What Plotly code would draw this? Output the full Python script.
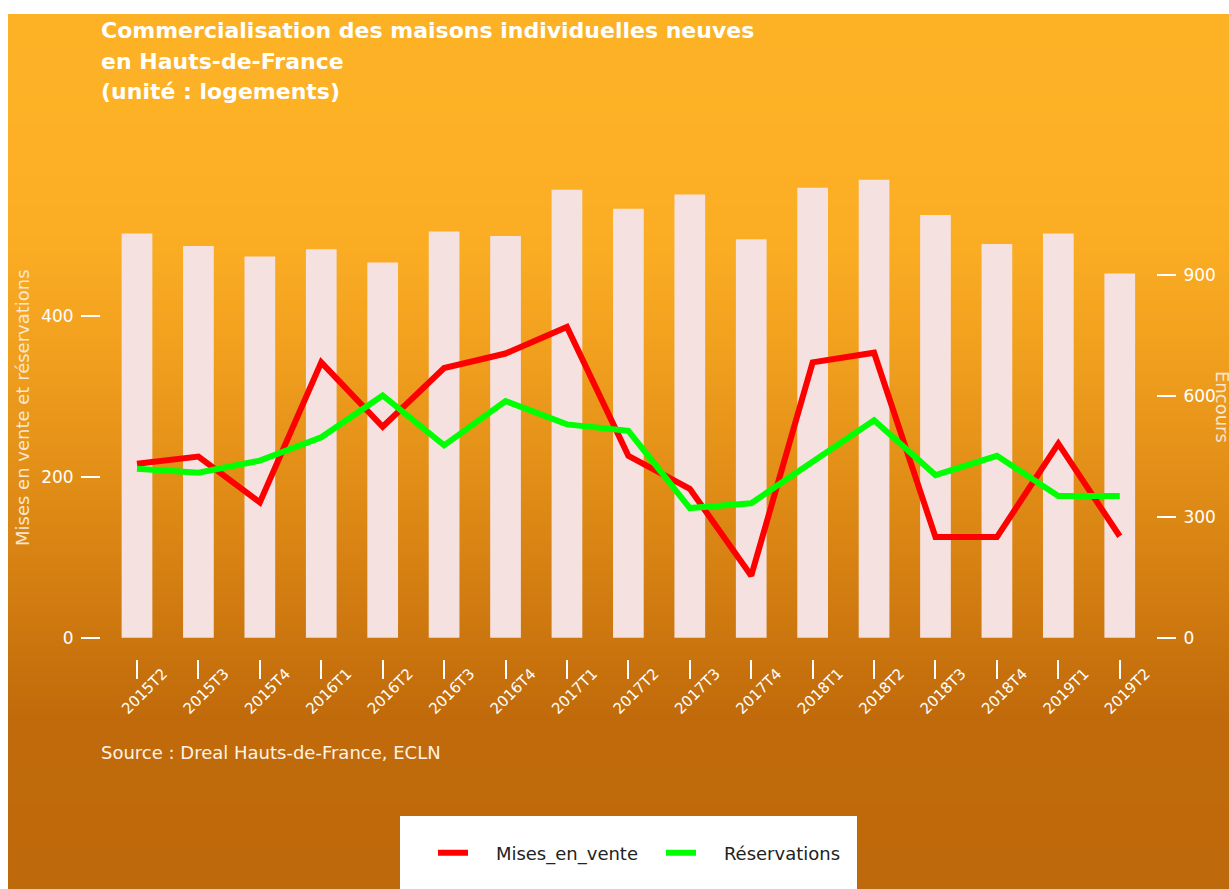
import plotly.graph_objects as go

categories = ['2015T2', '2015T3', '2015T4', '2016T1', '2016T2', '2016T3', '2016T4',
              '2017T1', '2017T2', '2017T3', '2017T4', '2018T1', '2018T2', '2018T3',
              '2018T4', '2019T1', '2019T2']
encours = [1004, 973, 947, 965, 932, 1009, 998, 1113, 1066, 1101, 990, 1118, 1138,
           1050, 978, 1004, 905]
mises_en_vente = [216, 225, 168, 342, 262, 335, 353, 386, 226, 185, 77, 342, 354,
                  125, 125, 241, 126]
reservations = [210, 205, 220, 249, 301, 239, 294, 265, 257, 161, 167, 218, 270,
                202, 226, 176, 176]
left_ticks = [0, 200, 400]
right_ticks = [0, 300, 600, 900]

W, H = 1229, 889
ML, MR, MT, MB = 101, 73, 100, 230
PW = W - ML - MR
PH = H - MT - MB


def px(x):
    return (x - ML) / PW


def py(y):
    return (H - MB - y) / PH


FONT = "DejaVu Sans, Liberation Sans, Arial, sans-serif"

# background gradient stops (pixel y, rgb)
stops = [(14, (253, 178, 38)), (160, (253, 176, 37)), (250, (250, 172, 35)),
         (350, (241, 160, 30)), (450, (229, 146, 25)), (550, (216, 131, 19)),
         (650, (202, 116, 14)), (720, (192, 106, 11)), (889, (190, 105, 11))]


def col_at(y):
    for (y0, c0), (y1, c1) in zip(stops[:-1], stops[1:]):
        if y0 <= y <= y1:
            t = (y - y0) / (y1 - y0)
            return 'rgb(%d,%d,%d)' % tuple(round(a + (b - a) * t) for a, b in zip(c0, c1))
    return 'rgb(%d,%d,%d)' % stops[-1][1]


shapes = []
step = 3
y = 14
while y < H:
    y2 = min(y + step, H)
    shapes.append(dict(type='rect', xref='paper', yref='paper', x0=px(8), x1=px(W + 2),
                       y0=py(y2 + 0.5), y1=py(y), fillcolor=col_at(y + step / 2),
                       line=dict(width=0), layer='below'))
    y = y2
# legend box
shapes.append(dict(type='rect', xref='paper', yref='paper', x0=px(400), x1=px(857),
                   y0=py(H + 2), y1=py(816), fillcolor='white', line=dict(width=0),
                   layer='below'))

NB = '\u00a0' * 4
fig = go.Figure()
fig.add_trace(go.Bar(x=categories, y=encours, name='Encours', yaxis='y',
                     marker=dict(color='#F6E1E1', line=dict(width=0)), width=0.5,
                     showlegend=False))
fig.add_trace(go.Scatter(x=categories, y=mises_en_vente, name=NB + 'Mises_en_vente',
                         yaxis='y2', mode='lines', line=dict(color='#FF0000', width=6)))
fig.add_trace(go.Scatter(x=categories, y=reservations, name=NB + 'Réservations',
                         yaxis='y2', mode='lines', line=dict(color='#00FF00', width=6)))

# scale: left axis 0.805 px/unit, right axis 0.4025 px/unit, zero at y=637.7
zero_px = 637.7
lk = 0.805
l_min = -(H - MB - zero_px) / lk
l_max = l_min + PH / lk

annotations = [
    dict(text='<b>Commercialisation des maisons individuelles neuves</b>', x=px(99), y=py(31)),
    dict(text='<b>en Hauts-de-France</b>', x=px(99), y=py(61)),
    dict(text='<b>(unité : logements)</b>', x=px(99), y=py(92)),
]
for a in annotations:
    a.update(xref='paper', yref='paper', xanchor='left', yanchor='middle', showarrow=False,
             font=dict(family=FONT, size=22, color='white'))
annotations.append(dict(text='Source : Dreal Hauts-de-France, ECLN', x=px(99), y=py(752),
                        xref='paper', yref='paper', xanchor='left', yanchor='middle',
                        showarrow=False, font=dict(family=FONT, size=18, color='#FFF3E6')))
annotations.append(dict(text='Mises en vente et réservations', x=px(22), y=py(408),
                        xref='paper', yref='paper', xanchor='center', yanchor='middle',
                        textangle=-90, showarrow=False,
                        font=dict(family=FONT, size=18, color='#F8E6D2')))
annotations.append(dict(text='Encours', x=px(1222), y=py(407),
                        xref='paper', yref='paper', xanchor='center', yanchor='middle',
                        textangle=90, showarrow=False,
                        font=dict(family=FONT, size=18, color='#F8E6D2')))

fig.update_layout(
    width=W, height=H, autosize=False,
    margin=dict(l=ML, r=MR, t=MT, b=MB, pad=0),
    paper_bgcolor='white', plot_bgcolor='rgba(0,0,0,0)',
    shapes=shapes, annotations=annotations,
    font=dict(family=FONT, color='white'),
    xaxis=dict(type='category', range=[-0.586, 16.59], showgrid=False, zeroline=False,
               showline=False, ticks='outside', ticklen=19, tickwidth=2, tickcolor='white',
               tickangle=-45, ticklabelshift=26, ticklabelstandoff=-20,
               tickfont=dict(size=15, color='white', family=FONT)),
    yaxis=dict(side='right', range=[2 * l_min, 2 * l_max], tickvals=right_ticks,
               showgrid=False, zeroline=False, showline=False, ticks='outside',
               ticklen=19, tickwidth=2, tickcolor='white', ticklabelstandoff=4,
               tickfont=dict(size=17, color='white', family=FONT)),
    yaxis2=dict(overlaying='y', side='left', range=[l_min, l_max], tickvals=left_ticks,
                showgrid=False, zeroline=False, showline=False, ticks='outside',
                ticklen=19, tickwidth=2, tickcolor='white', ticklabelstandoff=4,
                tickfont=dict(size=17, color='white', family=FONT)),
    legend=dict(orientation='h', x=px(433), y=py(853), xanchor='left', yanchor='middle',
                bgcolor='rgba(0,0,0,0)', font=dict(family=FONT, size=18, color='#222222'),
                traceorder='normal', entrywidth=183),
    showlegend=True,
)

fig.write_html("out.html", config={'displayModeBar': False},
               post_script="document.body.style.margin='0';document.body.style.overflow='hidden';")
